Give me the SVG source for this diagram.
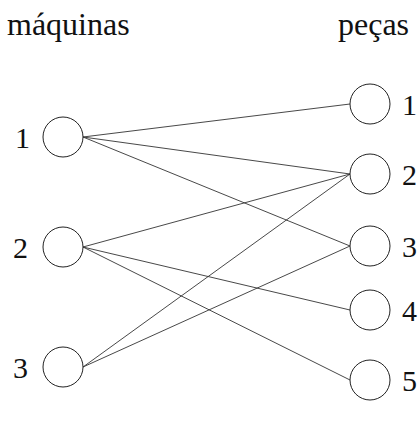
<svg xmlns="http://www.w3.org/2000/svg" width="419" height="424" viewBox="0 0 419 424">
<style>
.n{fill:#fff;stroke:#222;stroke-width:1}
.t{font-family:"Liberation Serif",serif;fill:#111}
.h{font-size:32px}
.d{font-size:30px}
.e{stroke:#333;stroke-width:0.9;fill:none}
</style>
<rect width="419" height="424" fill="#fff"/>
<text class="t h" x="7" y="35">máquinas</text>
<text class="t h" x="338" y="35">peças</text>
<g id="connectors">
<line class="e" x1="83" y1="137" x2="350" y2="104"/>
<line class="e" x1="83" y1="137" x2="350" y2="174"/>
<line class="e" x1="83" y1="137" x2="350" y2="246"/>
<line class="e" x1="83" y1="247" x2="350" y2="174"/>
<line class="e" x1="83" y1="247" x2="350" y2="310"/>
<line class="e" x1="83" y1="247" x2="350" y2="380"/>
<line class="e" x1="83" y1="367" x2="350" y2="174"/>
<line class="e" x1="83" y1="367" x2="350" y2="246"/>
</g>
<g id="m1"><circle class="n" cx="63" cy="137" r="20"/><text class="t d" x="15" y="148">1</text></g>
<g id="m2"><circle class="n" cx="63" cy="247" r="20"/><text class="t d" x="13" y="258">2</text></g>
<g id="m3"><circle class="n" cx="63" cy="367" r="20"/><text class="t d" x="13" y="378">3</text></g>
<g id="p1"><circle class="n" cx="370" cy="104" r="20"/><text class="t d" x="402" y="115">1</text></g>
<g id="p2"><circle class="n" cx="370" cy="174" r="20"/><text class="t d" x="402" y="185">2</text></g>
<g id="p3"><circle class="n" cx="370" cy="246" r="20"/><text class="t d" x="402" y="257">3</text></g>
<g id="p4"><circle class="n" cx="370" cy="310" r="20"/><text class="t d" x="402" y="321">4</text></g>
<g id="p5"><circle class="n" cx="370" cy="380" r="20"/><text class="t d" x="402" y="391">5</text></g>
</svg>
